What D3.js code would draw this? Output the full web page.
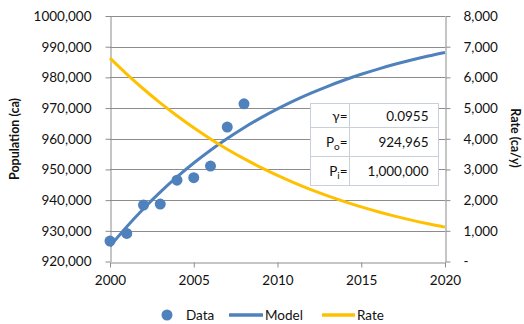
<!DOCTYPE html>
<html><head><meta charset="utf-8">
<script src="https://cdn.jsdelivr.net/npm/d3@7"></script>
<style>
html,body{margin:0;padding:0;background:#fff;}
svg{display:block;font-family:Lato,"Open Sans",sans-serif;}
</style></head>
<body><svg id="c" width="524" height="324"></svg>
<script>
// ---- data ----
const dataYears = [2000,2001,2002,2003,2004,2005,2006,2007,2008];
const dataPop   = [926650,929150,938400,938700,946500,947300,951100,963800,971400];
const modelYears = [2000,2001,2002,2003,2004,2005,2006,2007,2008,2009,2010,2011,2012,2013,2014,2015,2016,2017,2018,2019,2020];
const modelPop   = [924965,931330,937193,942585,947539,952089,956262,960087,963589,966796,969729,972410,974859,977097,979139,981004,982703,984254,985667,986956,988131];
const rateVals   = [6628,6108,5621,5168,4747,4356,3994,3660,3351,3066,2803,2562,2341,2137,1951,1780,1623,1480,1349,1229,1120];
const xTicks = [2000,2005,2010,2015,2020];
const yLeftTicks = [920000,930000,940000,950000,960000,970000,980000,990000,1000000];
const yLeftLabels = ["920,000","930,000","940,000","950,000","960,000","970,000","980,000","990,000","1000,000"];
const yRightTicks = [0,1000,2000,3000,4000,5000,6000,7000,8000];
const yRightLabels = ["-","1,000","2,000","3,000","4,000","5,000","6,000","7,000","8,000"];
const tableLabels = [["γ=",""],["P","o"],["P","i"]];
const tableValues = ["0.0955","924,965","1,000,000"];
const legendNames = ["Data","Model","Rate"];

// ---- layout ----
const L=110, R=445, T=16, B=261.5;
const blue="#4f81bd", gold="#ffc000", grid="#8c8c8c", txt="#111";
const svg=d3.select("#c");
const x=d3.scaleLinear().domain([2000,2020]).range([L,R]);
const yL=d3.scaleLinear().domain([920000,1000000]).range([B,T]);
const yR=d3.scaleLinear().domain([0,8000]).range([B,T]);

// gridlines
svg.append("g").selectAll("line").data(yLeftTicks.slice(1)).join("line")
  .attr("x1",L).attr("x2",R).attr("y1",d=>Math.round(yL(d))+0.5).attr("y2",d=>Math.round(yL(d))+0.5)
  .attr("stroke",grid).attr("stroke-width",1);

function styleAxis(g){
  g.select(".domain").attr("stroke",grid);
  g.selectAll(".tick line").attr("stroke",grid);
  g.selectAll("text").attr("fill",txt).style("font-size","13.5px").style("font-family","Lato,'Open Sans',sans-serif");
}
// left axis
const gl=svg.append("g").attr("transform",`translate(${L+0.5},0)`)
  .call(d3.axisLeft(yL).tickValues(yLeftTicks).tickFormat((d,i)=>yLeftLabels[i]).tickSize(5).tickSizeOuter(0).tickPadding(14));
styleAxis(gl);
// right axis
const gr=svg.append("g").attr("transform",`translate(${R+0.5},0)`)
  .call(d3.axisRight(yR).tickValues(yRightTicks).tickFormat((d,i)=>yRightLabels[i]).tickSize(5).tickSizeOuter(0).tickPadding(13));
styleAxis(gr);
// bottom axis
const gb=svg.append("g").attr("transform",`translate(0,${Math.round(B)+0.5})`)
  .call(d3.axisBottom(x).tickValues(xTicks).tickFormat(d3.format("d")).tickSize(5).tickSizeOuter(0).tickPadding(8));
styleAxis(gb);

// axis titles
svg.append("text").attr("transform",`translate(19,139) rotate(-90)`).attr("text-anchor","middle")
  .style("font-weight","bold").style("font-size","12.5px").attr("fill",txt).text("Population (ca)");
svg.append("text").attr("transform",`translate(511,138) rotate(90)`).attr("text-anchor","middle")
  .style("font-weight","bold").style("font-size","12.5px").attr("fill",txt).text("Rate (ca/y)");

// model line
const lineM=d3.line().x((d,i)=>x(modelYears[i])).y(d=>yL(d)).curve(d3.curveMonotoneX);
svg.append("path").datum(modelPop).attr("d",lineM).attr("fill","none").attr("stroke",blue).attr("stroke-width",3);
// data points
svg.append("g").selectAll("circle").data(dataPop).join("circle")
  .attr("cx",(d,i)=>x(dataYears[i])).attr("cy",d=>yL(d)).attr("r",5.5).attr("fill",blue);
// rate line
const lineR=d3.line().x((d,i)=>x(modelYears[i])).y(d=>yR(d)).curve(d3.curveMonotoneX);
svg.append("path").datum(rateVals).attr("d",lineR).attr("fill","none").attr("stroke",gold).attr("stroke-width",3);

// table
const tx0=310.5, tx1=349.5, tx2=438.5;
const rowY=[103.5,127.5,156.5,185.5];
const tb=svg.append("g");
tb.append("rect").attr("x",tx0).attr("y",rowY[0]).attr("width",tx2-tx0).attr("height",rowY[3]-rowY[0])
  .attr("fill","#fff").attr("stroke","#c9d0dd");
tb.append("line").attr("x1",tx1).attr("x2",tx1).attr("y1",rowY[0]).attr("y2",rowY[3]).attr("stroke","#c9d0dd");
[1,2].forEach(i=>tb.append("line").attr("x1",tx0).attr("x2",tx2).attr("y1",rowY[i]).attr("y2",rowY[i]).attr("stroke","#c9d0dd"));
tableValues.forEach((v,i)=>{
  const cy=(rowY[i]+rowY[i+1])/2;
  const t=tb.append("text").attr("x",tx1-2).attr("y",cy+5).attr("text-anchor","end")
    .style("font-size","13.5px").attr("fill",txt);
  if(i===0){ t.text(tableLabels[i][0]); }
  else {
    t.append("tspan").text(tableLabels[i][0]);
    t.append("tspan").attr("dy",3).style("font-size","10px").text(tableLabels[i][1]);
    t.append("tspan").attr("dy",-3).text("=");
  }
  tb.append("text").attr("x",tx2-10).attr("y",cy+5).attr("text-anchor","end")
    .style("font-size","13.5px").attr("fill",txt).text(v);
});

// legend
const ly=316;
const lg=svg.append("g");
lg.append("circle").attr("cx",167).attr("cy",ly-1).attr("r",5.5).attr("fill",blue);
lg.append("text").attr("x",186).attr("y",ly+4).style("font-size","13.5px").attr("fill",txt).text(legendNames[0]);
lg.append("line").attr("x1",229).attr("x2",263).attr("y1",ly-1).attr("y2",ly-1).attr("stroke",blue).attr("stroke-width",3.5);
lg.append("text").attr("x",265).attr("y",ly+4).style("font-size","13.5px").attr("fill",txt).text(legendNames[1]);
lg.append("line").attr("x1",322).attr("x2",355).attr("y1",ly-1).attr("y2",ly-1).attr("stroke",gold).attr("stroke-width",3.5);
lg.append("text").attr("x",357).attr("y",ly+4).style("font-size","13.5px").attr("fill",txt).text(legendNames[2]);
</script></body></html>
